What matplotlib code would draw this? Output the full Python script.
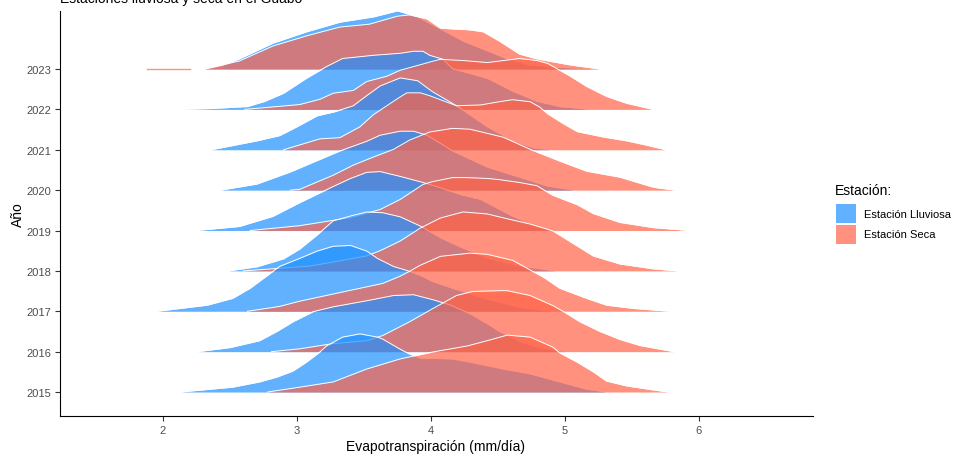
import matplotlib.pyplot as plt
from matplotlib.patches import Rectangle

plt.rcParams['font.family'] = ['Liberation Sans', 'DejaVu Sans']

years = [2015, 2016, 2017, 2018, 2019, 2020, 2021, 2022, 2023]
x_ticks = [2, 3, 4, 5, 6]

# density curves (x in mm/dia, height in ridge spacings)
lluviosa_x = {
    2023: [2.31, 2.43, 2.57, 2.82, 3.07, 3.32, 3.57, 3.75, 3.90, 4.07, 4.24, 4.42, 4.57, 4.74, 4.96, 5.26],
    2022: [2.11, 2.35, 2.63, 2.76, 2.90, 3.07, 3.22, 3.34, 3.57, 3.77, 3.87, 3.94, 3.99, 4.09, 4.16, 4.42, 4.61, 4.79, 4.96, 5.19],
    2021: [2.36, 2.70, 2.87, 3.00, 3.15, 3.28, 3.42, 3.52, 3.62, 3.77, 3.90, 4.01, 4.19, 4.42, 4.61, 4.76, 4.89],
    2020: [2.43, 2.70, 2.95, 3.12, 3.32, 3.52, 3.62, 3.77, 3.87, 3.97, 4.07, 4.16, 4.42, 4.66, 4.87, 5.07],
    2019: [2.25, 2.57, 2.82, 3.02, 3.27, 3.40, 3.52, 3.62, 3.77, 3.94, 4.07, 4.22, 4.37, 4.61, 4.79, 4.93],
    2018: [2.49, 2.70, 2.90, 3.02, 3.15, 3.27, 3.40, 3.52, 3.64, 3.77, 3.92, 4.07, 4.22, 4.42, 4.66, 4.93],
    2017: [1.955, 2.33, 2.52, 2.65, 2.78, 2.87, 3.02, 3.15, 3.27, 3.40, 3.52, 3.60, 3.72, 3.82, 3.92, 4.01, 4.16, 4.42, 4.66, 4.91],
    2016: [2.26, 2.50, 2.72, 2.85, 2.97, 3.12, 3.27, 3.52, 3.72, 3.87, 4.01, 4.14, 4.29, 4.42, 4.51, 4.66, 4.81, 5.00],
    2015: [2.13, 2.52, 2.72, 2.85, 2.97, 3.07, 3.17, 3.22, 3.34, 3.47, 3.60, 3.64, 3.77, 3.84, 3.92, 4.16, 4.29, 4.54, 4.74, 4.96, 5.16, 5.31],
}
lluviosa_h = {
    2023: [0, 0.07, 0.25, 0.64, 0.92, 1.16, 1.29, 1.44, 1.29, 0.99, 0.69, 0.45, 0.25, 0.10, 0.04, 0],
    2022: [0, 0.02, 0.07, 0.20, 0.40, 0.77, 1.06, 1.26, 1.34, 1.39, 1.44, 1.44, 1.34, 1.24, 1.01, 0.77, 0.45, 0.20, 0.07, 0],
    2021: [0, 0.22, 0.35, 0.57, 0.84, 0.94, 1.09, 1.34, 1.58, 1.78, 1.71, 1.44, 1.09, 0.57, 0.22, 0.05, 0],
    2020: [0, 0.15, 0.45, 0.69, 0.97, 1.21, 1.36, 1.46, 1.46, 1.36, 1.16, 0.97, 0.57, 0.32, 0.10, 0],
    2019: [0, 0.10, 0.35, 0.69, 1.09, 1.29, 1.44, 1.46, 1.34, 1.19, 1.06, 0.89, 0.77, 0.35, 0.10, 0],
    2018: [0, 0.10, 0.30, 0.54, 0.89, 1.24, 1.36, 1.46, 1.44, 1.34, 1.11, 0.82, 0.59, 0.32, 0.12, 0],
    2017: [0, 0.15, 0.32, 0.57, 0.89, 1.11, 1.31, 1.49, 1.61, 1.63, 1.49, 1.31, 1.11, 1.01, 0.89, 0.74, 0.57, 0.30, 0.10, 0],
    2016: [0, 0.10, 0.27, 0.50, 0.74, 0.99, 1.11, 1.26, 1.39, 1.41, 1.29, 1.16, 0.94, 0.69, 0.50, 0.25, 0.10, 0],
    2015: [0, 0.12, 0.25, 0.37, 0.52, 0.74, 0.99, 1.14, 1.36, 1.44, 1.36, 1.31, 1.06, 0.94, 0.84, 0.82, 0.74, 0.57, 0.45, 0.25, 0.07, 0],
}
seca_x = {
    2023: [2.31, 2.57, 2.82, 3.07, 3.32, 3.54, 3.75, 3.84, 3.97, 4.07, 4.29, 4.39, 4.51, 4.66, 4.79, 5.04, 5.26],
    2022: [2.61, 3.02, 3.17, 3.27, 3.42, 3.52, 3.67, 3.77, 3.87, 4.01, 4.07, 4.24, 4.42, 4.54, 4.66, 4.79, 4.87, 4.96, 5.04, 5.16, 5.31, 5.46, 5.63, 5.65],
    2021: [2.90, 3.17, 3.32, 3.47, 3.57, 3.67, 3.77, 3.82, 3.92, 3.99, 4.19, 4.37, 4.51, 4.61, 4.74, 4.81, 4.87, 4.99, 5.09, 5.28, 5.46, 5.60, 5.75],
    2020: [2.95, 3.02, 3.27, 3.42, 3.57, 3.72, 3.84, 3.99, 4.16, 4.29, 4.54, 4.74, 4.96, 5.16, 5.41, 5.66, 5.82],
    2019: [2.65, 3.02, 3.40, 3.62, 3.77, 3.94, 4.01, 4.16, 4.27, 4.42, 4.51, 4.66, 4.79, 4.91, 5.09, 5.21, 5.41, 5.66, 5.93],
    2018: [2.60, 3.10, 3.52, 3.62, 3.77, 3.92, 4.07, 4.24, 4.42, 4.57, 4.74, 4.91, 5.04, 5.21, 5.41, 5.66, 5.84],
    2017: [2.63, 2.87, 3.02, 3.40, 3.64, 3.77, 3.84, 3.92, 4.07, 4.29, 4.42, 4.61, 4.72, 4.85, 4.96, 5.16, 5.31, 5.51, 5.78],
    2016: [2.81, 3.02, 3.27, 3.52, 3.64, 3.84, 4.01, 4.19, 4.31, 4.51, 4.57, 4.74, 4.91, 4.99, 5.11, 5.26, 5.41, 5.56, 5.81],
    2015: [2.78, 3.02, 3.27, 3.52, 3.77, 4.01, 4.27, 4.44, 4.57, 4.74, 4.91, 4.96, 5.09, 5.21, 5.31, 5.46, 5.66, 5.77],
}
seca_h = {
    2023: [0, 0.20, 0.57, 0.82, 1.04, 1.11, 1.31, 1.34, 1.24, 1.01, 0.97, 0.92, 0.69, 0.37, 0.25, 0.10, 0],
    2022: [0, 0.12, 0.25, 0.40, 0.47, 0.69, 0.82, 0.97, 1.06, 1.19, 1.24, 1.21, 1.16, 1.21, 1.26, 1.21, 1.14, 0.97, 0.82, 0.57, 0.32, 0.15, 0.02, 0],
    2021: [0, 0.27, 0.30, 0.57, 0.87, 1.09, 1.31, 1.41, 1.41, 1.34, 1.09, 1.11, 1.19, 1.24, 1.19, 1.06, 0.89, 0.64, 0.45, 0.32, 0.22, 0.12, 0],
    2020: [0, 0.02, 0.37, 0.62, 0.82, 1.01, 1.24, 1.44, 1.53, 1.51, 1.31, 1.01, 0.72, 0.47, 0.32, 0.07, 0],
    2019: [0, 0.12, 0.32, 0.52, 0.77, 1.14, 1.21, 1.31, 1.31, 1.29, 1.26, 1.19, 1.11, 0.87, 0.64, 0.42, 0.20, 0.07, 0],
    2018: [0, 0.12, 0.37, 0.50, 0.74, 1.06, 1.31, 1.46, 1.41, 1.29, 1.16, 0.99, 0.72, 0.37, 0.17, 0.05, 0],
    2017: [0, 0.12, 0.25, 0.52, 0.69, 0.87, 0.99, 1.14, 1.36, 1.44, 1.41, 1.26, 1.06, 0.82, 0.57, 0.32, 0.15, 0.07, 0],
    2016: [0, 0.07, 0.20, 0.27, 0.40, 0.74, 1.06, 1.39, 1.49, 1.51, 1.51, 1.39, 1.14, 0.99, 0.74, 0.50, 0.30, 0.15, 0],
    2015: [0, 0.12, 0.25, 0.57, 0.82, 0.99, 1.14, 1.29, 1.41, 1.36, 1.11, 0.97, 0.74, 0.50, 0.27, 0.15, 0.05, 0],
}
# stray flat piece of the 2023 dry-season curve on the left
seca_2023_tail = [1.88, 2.20]

col_lluviosa = '#1E90FF'
col_seca = '#FF6347'
alpha = 0.7

fig = plt.figure(figsize=(9.6, 4.56), dpi=100)
ax = fig.add_axes([60/960, 1 - 417/456, 753/960, 405/456])

# top ridge first so lower years sit in front
z = 1
ax.plot(seca_2023_tail, [9, 9], color=col_seca, alpha=alpha, lw=1.0, zorder=z)
for year in sorted(years, reverse=True):
    base = years.index(year) + 1
    for xs, hs, col in [(lluviosa_x[year], lluviosa_h[year], col_lluviosa),
                        (seca_x[year], seca_h[year], col_seca)]:
        top = [base + h for h in hs]
        ax.fill_between(xs, base, top, color=col, alpha=alpha, lw=0, zorder=z)
        ax.plot(xs, top, color='white', lw=0.7, zorder=z + 0.5)
        z += 1

ax.set_xlim(1.231, 6.851)
ax.set_ylim(0.406, 10.437)
ax.set_xticks(x_ticks)
ax.set_yticks(range(1, len(years) + 1))
ax.set_yticklabels([str(y) for y in years])
for s in ['top', 'right']:
    ax.spines[s].set_visible(False)
for s in ['left', 'bottom']:
    ax.spines[s].set_linewidth(0.8)
ax.tick_params(length=3.6, width=0.8, color='#333333', labelcolor='#4D4D4D',
               labelsize=8, pad=3)

fig.text(60/960, 1 - 3/456, 'Estaciones lluviosa y seca en el Guabo',
         fontsize=10, va='baseline', ha='left')
fig.text(436/960, 1 - 447/456, 'Evapotranspiración (mm/día)', fontsize=10,
         ha='center', va='center')
fig.text(18/960, 1 - 215/456, 'Año', fontsize=10, rotation=90,
         ha='center', va='center')

# legend
fig.text(835/960, 1 - 191/456, 'Estación:', fontsize=10, va='center')
for i, (lab, col) in enumerate([('Estación Lluviosa', col_lluviosa), ('Estación Seca', col_seca)]):
    top_px = 205 + i * 21
    fig.patches.append(Rectangle((836/960, 1 - (top_px + 19)/456), 20/960, 19/456,
                                 transform=fig.transFigure, facecolor=col,
                                 alpha=alpha, edgecolor='none'))
    fig.text(864/960, 1 - (top_px + 9.5)/456, lab, fontsize=8, va='center')

fig.savefig('out.png', dpi=100)
